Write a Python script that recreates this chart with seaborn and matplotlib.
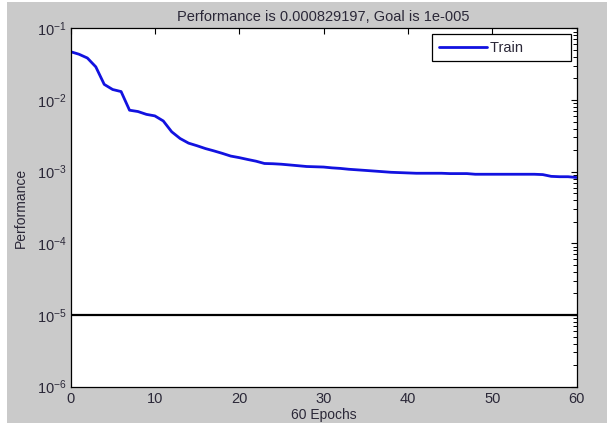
import matplotlib
matplotlib.use("Agg")
import matplotlib.pyplot as plt
import seaborn as sns
import pandas as pd
import numpy as np
from matplotlib.patches import Rectangle
from matplotlib.ticker import LogLocator, FixedLocator, NullFormatter

epochs = list(range(61))
train_perf = [0.0472, 0.0435, 0.0385, 0.029, 0.0165, 0.0140, 0.0131, 0.0072, 0.0069, 0.0063,
              0.0060, 0.0051, 0.0036, 0.0029, 0.0025, 0.0023, 0.0021, 0.00195, 0.0018, 0.00165,
              0.00157, 0.00148, 0.0014, 0.0013, 0.00129, 0.00127, 0.00124, 0.00121, 0.00118, 0.00117,
              0.00116, 0.00113, 0.00111, 0.00108, 0.00106, 0.00104, 0.00102, 0.00100, 0.00098, 0.00097,
              0.00096, 0.00095, 0.00095, 0.00095, 0.00095, 0.00094, 0.00094, 0.00094, 0.00092, 0.00092,
              0.00092, 0.00092, 0.00092, 0.00092, 0.00092, 0.00092, 0.00091, 0.00086, 0.00085, 0.00085,
              0.000829197]
goal = 1e-5
title_text = "Performance is 0.000829197, Goal is 1e-005"
x_label = "60 Epochs"
y_label = "Performance"
series_name = "Train"
x_ticks = [0, 10, 20, 30, 40, 50, 60]

sns.set_style("white")
plt.rcParams["font.family"] = ["Liberation Sans", "DejaVu Sans"]
plt.rcParams["mathtext.fontset"] = "custom"
plt.rcParams["mathtext.rm"] = "Liberation Sans"
plt.rcParams["mathtext.it"] = "Liberation Sans"
plt.rcParams["mathtext.bf"] = "Liberation Sans"

bg = "#cacaca"
txt = "#2b2838"

fig = plt.figure(figsize=(6.07, 4.26), dpi=100, facecolor="white")
fig.patches.append(Rectangle((7/607, 3/426), 1 - 7/607, 1 - 5/426,
                             transform=fig.transFigure, facecolor=bg, edgecolor="none", zorder=-10))
ax = fig.add_axes([70.5/607, 1 - 386.7/426, (576.5 - 70.5)/607, (386.7 - 28.3)/426])
ax.set_facecolor("white")

df = pd.DataFrame({"Epoch": epochs, "Performance": train_perf})
sns.lineplot(data=df, x="Epoch", y="Performance", ax=ax, color="#1212e0", linewidth=2.0,
             label=series_name)
ax.axhline(goal, color="black", linewidth=1.6)

ax.set_yscale("log")
ax.set_xlim(0, 60)
ax.set_ylim(1e-6, 1e-1)
ax.xaxis.set_major_locator(FixedLocator(x_ticks))
ax.yaxis.set_major_locator(LogLocator(base=10, numticks=10))
ax.yaxis.set_minor_locator(LogLocator(base=10, subs=np.arange(2, 10), numticks=20))
ax.yaxis.set_minor_formatter(NullFormatter())

ax.tick_params(axis="both", which="both", direction="in", top=True, right=True,
               colors="black", labelcolor=txt, labelsize=10.5)
ax.tick_params(axis="both", which="major", length=4.5, width=0.8)
ax.tick_params(axis="y", which="minor", length=3, width=0.7)
ax.tick_params(axis="y", which="major", pad=3)
ax.tick_params(axis="x", which="major", pad=4)

for s in ax.spines.values():
    s.set_visible(True)
    s.set_color("black")
    s.set_linewidth(0.9)

ax.set_title(title_text, fontsize=10.5, color=txt, pad=5)
ax.set_xlabel(x_label, fontsize=10, color=txt, labelpad=1)
ax.set_ylabel(y_label, fontsize=10, color=txt, labelpad=6)

leg = ax.legend(loc="upper right", fancybox=False, framealpha=1, edgecolor="black",
                fontsize=10.5, handlelength=3.3, borderaxespad=0.4, borderpad=0.45,
                handletextpad=0.2)
leg.get_frame().set_linewidth(0.9)
for t in leg.get_texts():
    t.set_color(txt)
    t.set_text(series_name + "          ")

fig.savefig("out.png", dpi=100, facecolor=fig.get_facecolor())
